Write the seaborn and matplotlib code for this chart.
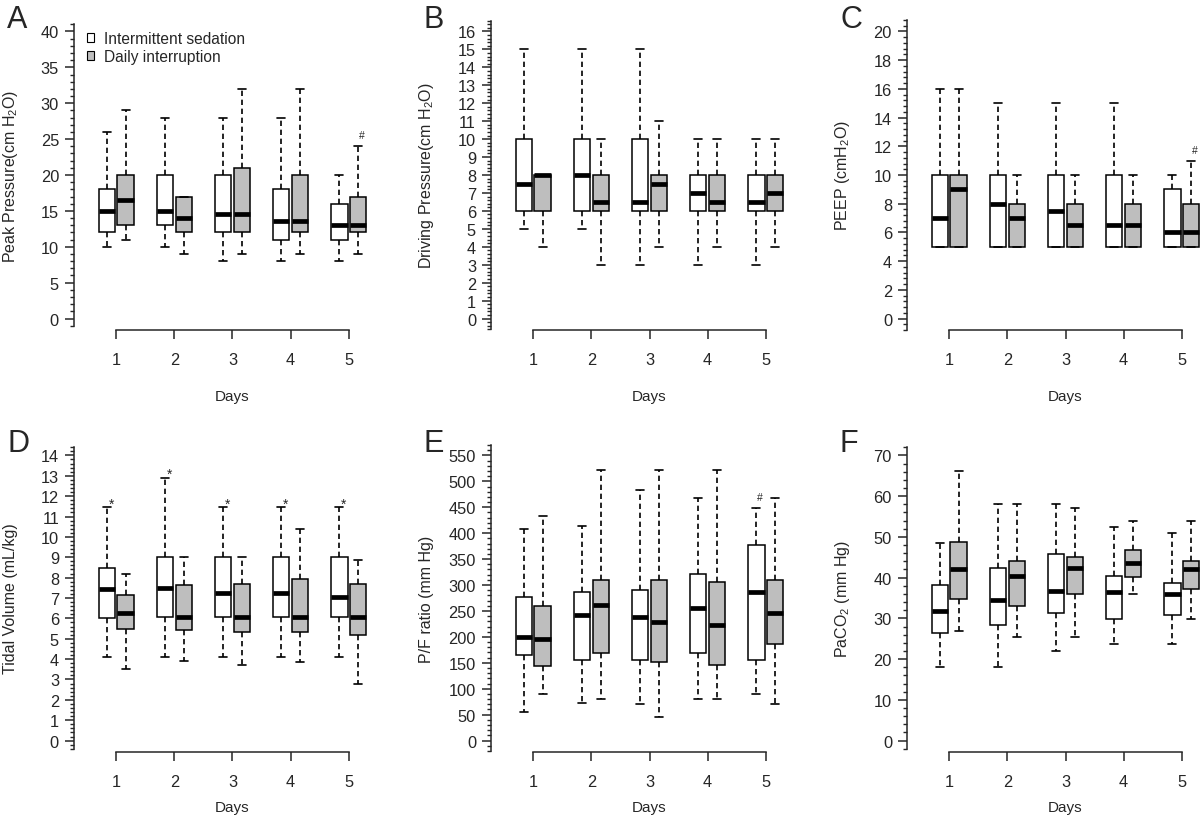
import pandas as pd
import seaborn as sns
import matplotlib.pyplot as plt
from matplotlib.ticker import MultipleLocator
from matplotlib.patches import Patch

# six panels, days 1-5, two groups
# box statistics: min, q1, median, q3, max

days = ['1', '2', '3', '4', '5']
groups = ['Intermittent sedation', 'Daily interruption']
group_colors = ['white', '#BEBEBE']

peak_is = [[10, 12, 15, 18, 26], [10, 13, 15, 20, 28], [8, 12, 14.6, 20, 28],
           [8, 11, 13.6, 18, 28], [8, 11, 13, 16, 20]]
peak_di = [[11, 13, 16.5, 20, 29], [9, 12, 14, 17, 17], [9, 12, 14.6, 21, 32],
           [9, 12, 13.6, 20, 32], [9, 12, 13, 17, 24]]

driving_is = [[5, 6, 7.5, 10, 15], [5, 6, 8, 10, 15], [3, 6, 6.5, 10, 15],
              [3, 6, 7, 8, 10], [3, 6, 6.5, 8, 10]]
driving_di = [[4, 6, 8, 8, 8], [3, 6, 6.5, 8, 10], [4, 6, 7.5, 8, 11],
              [4, 6, 6.5, 8, 10], [4, 6, 7, 8, 10]]

peep_is = [[5, 5, 7, 10, 16], [5, 5, 8, 10, 15], [5, 5, 7.5, 10, 15],
           [5, 5, 6.5, 10, 15], [5, 5, 6, 9, 10]]
peep_di = [[5, 5, 9, 10, 16], [5, 5, 7, 8, 10], [5, 5, 6.5, 8, 10],
           [5, 5, 6.5, 8, 10], [5, 5, 6, 8, 11]]

tidal_is = [[4.1, 6, 7.45, 8.45, 11.45], [4.1, 6.05, 7.5, 9, 12.9],
            [4.1, 6.05, 7.25, 9, 11.45], [4.1, 6.05, 7.25, 9, 11.45],
            [4.1, 6.05, 7.05, 9, 11.45]]
tidal_di = [[3.5, 5.5, 6.25, 7.15, 8.2], [3.9, 5.45, 6.05, 7.65, 9],
            [3.7, 5.35, 6.05, 7.7, 9], [3.85, 5.35, 6.05, 7.95, 10.4],
            [2.8, 5.2, 6.05, 7.7, 8.85]]

pf_is = [[55, 165, 199, 276, 408], [72, 155, 242, 287, 414], [70, 155, 238, 290, 483],
         [80, 168, 256, 321, 468], [89, 155, 287, 378, 448]]
pf_di = [[89, 143, 196, 260, 434], [80, 168, 262, 310, 522], [46, 151, 228, 310, 522],
         [80, 146, 223, 306, 522], [70, 186, 247, 310, 468]]

paco2_is = [[18, 26.5, 31.8, 38.1, 48.5], [18, 28.3, 34.5, 42.4, 58],
            [22, 31.2, 36.7, 45.9, 58], [23.7, 29.8, 36.5, 40.4, 52.4],
            [23.7, 30.8, 36.1, 38.7, 51]]
paco2_di = [[27, 34.8, 42, 48.8, 66.1], [25.4, 33, 40.4, 44.2, 58],
            [25.4, 35.9, 42.4, 45, 57.1], [35.9, 40.1, 43.5, 46.7, 53.8],
            [29.8, 37.3, 42, 44.2, 53.8]]

# significance marks: (day index, group index, symbol)
marks_peak = [(4, 1, '#')]
marks_peep = [(4, 1, '#')]
marks_tidal = [(0, 0, '*'), (1, 0, '*'), (2, 0, '*'), (3, 0, '*'), (4, 0, '*')]
marks_pf = [(4, 0, '#')]

panels = [
    ('A', 'Peak Pressure(cm H$_2$O)', peak_is, peak_di, 40, 5, marks_peak),
    ('B', 'Driving Pressure(cm H$_2$O)', driving_is, driving_di, 16, 1, []),
    ('C', 'PEEP (cmH$_2$O)', peep_is, peep_di, 20, 2, marks_peep),
    ('D', 'Tidal Volume (mL/kg)', tidal_is, tidal_di, 14, 1, marks_tidal),
    ('E', 'P/F ratio (mm Hg)', pf_is, pf_di, 550, 50, marks_pf),
    ('F', 'PaCO$_2$ (mm Hg)', paco2_is, paco2_di, 70, 10, []),
]


def to_long(stats_is, stats_di):
    rows = []
    for g, stats in zip(groups, [stats_is, stats_di]):
        for d, five in zip(days, stats):
            for v in five:
                rows.append({'day': d, 'group': g, 'value': v})
    return pd.DataFrame(rows)


sns.set_style('ticks')
plt.rcParams['font.family'] = ['Liberation Sans', 'DejaVu Sans']
plt.rcParams['mathtext.default'] = 'regular'

W, H = 1200, 820
fig = plt.figure(figsize=(12, 8.2), dpi=100)

col_left = [74, 491, 907]
row_top = [21, 445]
row_h = [310, 308]
ax_w = 317
xlo, xhi = -0.73, 4.73
off = 0.16  # half distance between the two boxes of a day

for i, (letter, ylabel, s_is, s_di, ytop, major, marks) in enumerate(panels):
    r, c = divmod(i, 3)
    left, top, h = col_left[c], row_top[r], row_h[r]
    ax = fig.add_axes([left / W, 1 - (top + h) / H, ax_w / W, h / H])

    df = to_long(s_is, s_di)
    sns.boxplot(
        data=df, x='day', y='value', hue='group', order=days, hue_order=groups,
        palette=dict(zip(groups, group_colors)), saturation=1,
        whis=(0, 100), width=0.64, gap=0.12, fliersize=0,
        linecolor='black', linewidth=1.1, legend=False, ax=ax,
        boxprops=dict(linewidth=1.1),
        medianprops=dict(linewidth=3.4, color='black'),
        whiskerprops=dict(linewidth=1.2, linestyle=(0, (3.2, 2.2))),
        capprops=dict(linewidth=1.2),
    )

    pad = 0.04 * ytop
    ax.set_xlim(xlo, xhi)
    ax.set_ylim(-pad, ytop + pad)
    minor = major / 5
    ax.yaxis.set_major_locator(MultipleLocator(major))
    ax.yaxis.set_minor_locator(MultipleLocator(minor))
    sns.despine(ax=ax)
    lo = -int(pad / minor) * minor
    hi = ytop + int(pad / minor) * minor
    ax.spines['left'].set_bounds(lo, hi)
    ax.spines['bottom'].set_bounds(0, 4)
    for s in ['left', 'bottom']:
        ax.spines[s].set_linewidth(1.1)
    ax.tick_params(axis='y', which='major', length=6.3, width=1.1, pad=4.5, labelsize=11.8)
    ax.tick_params(axis='y', which='minor', length=3, width=1.0)
    ax.tick_params(axis='x', length=6.5, width=1.1, pad=9.5, labelsize=11.8)

    ax.set_ylabel(ylabel, fontsize=11.5)
    ax.yaxis.set_label_coords(-64 / ax_w, 0.5)
    ax.yaxis.label.set_va('center')
    ax.set_xlabel('Days', fontsize=11)
    ax.xaxis.set_label_coords(0.5, -0.213 if r == 0 else -0.179)
    ax.xaxis.label.set_va('center')

    for d, g, sym in marks:
        top_val = (s_is, s_di)[g][d][4]
        x = d + (off if g else -off)
        dy = 11 if sym == '#' else 4
        ax.annotate(sym, (x, top_val), xytext=(4, dy), textcoords='offset pixels',
                    ha='center', va='center', fontsize=7.5 if sym == '#' else 10)

    fig.text((left - 67) / W, 1 - (top - 16) / H, letter, fontsize=22,
             ha='left', va='top')

    if letter == 'A':
        handles = [Patch(facecolor=col, edgecolor='black', linewidth=0.8)
                   for col in group_colors]
        ax.legend(handles, groups, loc='upper left', bbox_to_anchor=(0.04, 0.965),
                  frameon=False, fontsize=11.2, handlelength=0.5, handleheight=0.5,
                  handletextpad=0.6, labelspacing=0.2, borderpad=0, borderaxespad=0)

fig.savefig('out.png', dpi=100)
